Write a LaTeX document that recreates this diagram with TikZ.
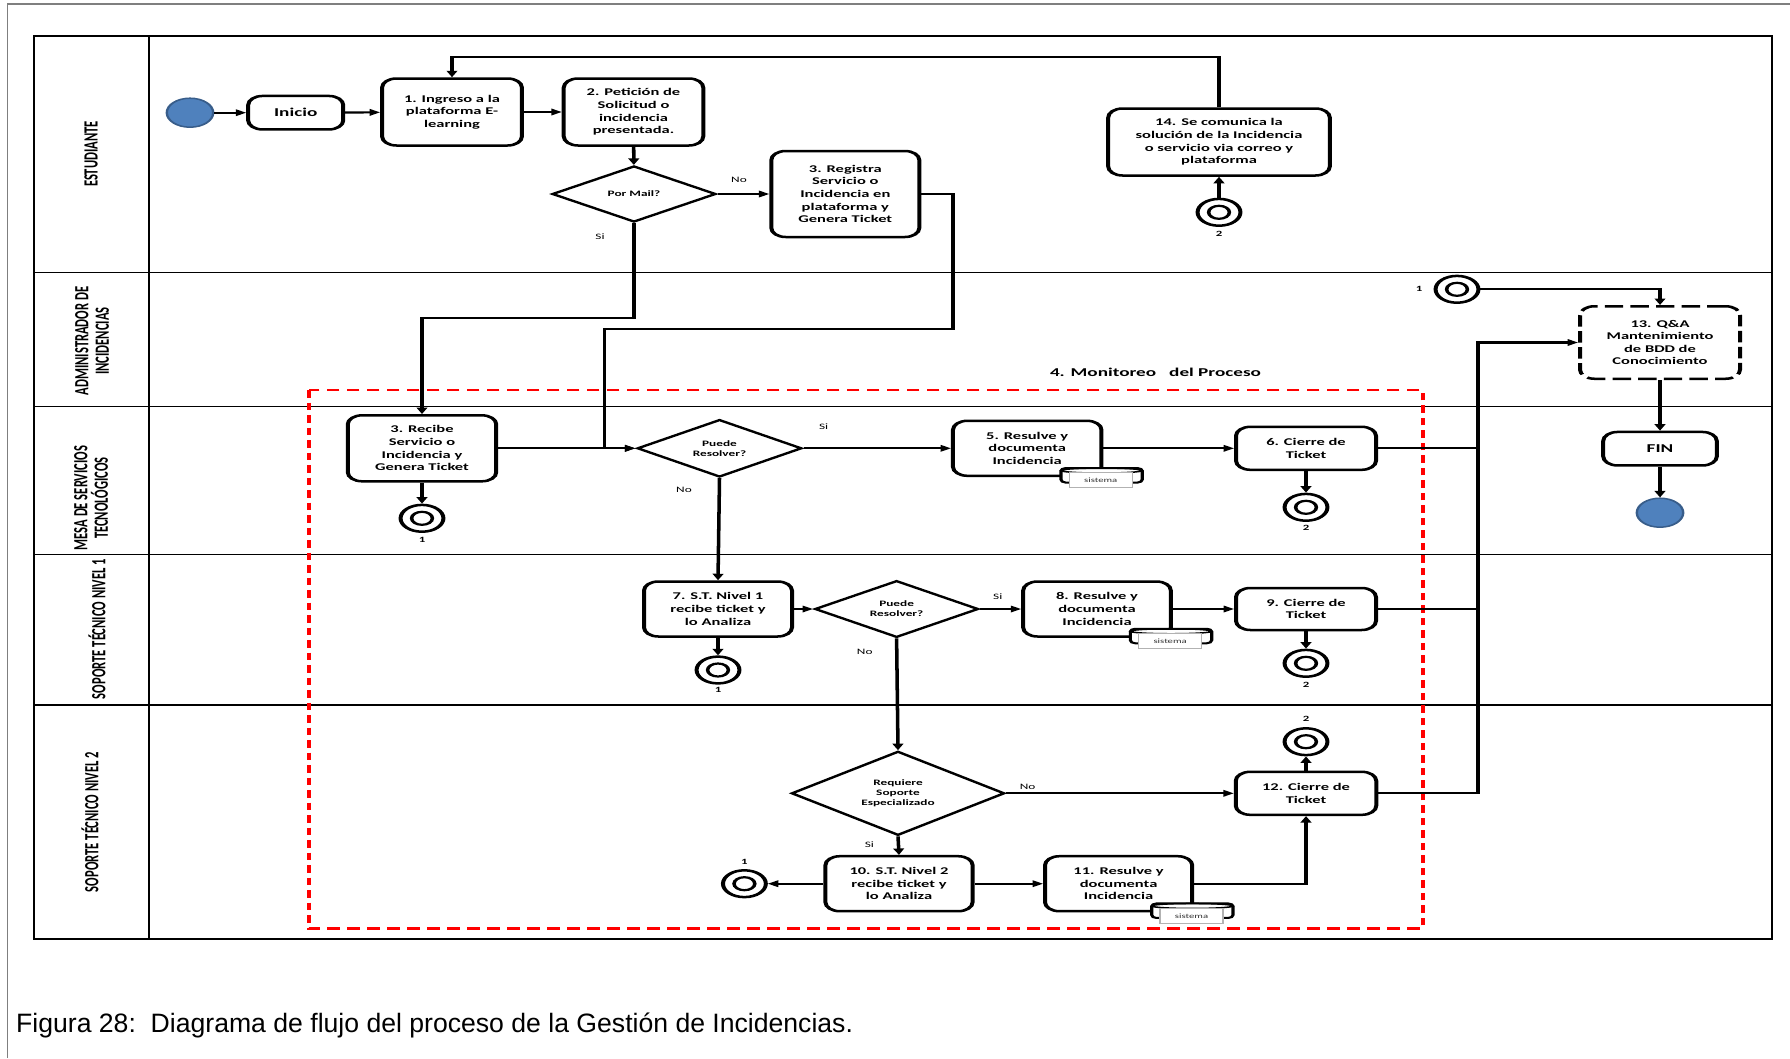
\documentclass[tikz,border=0pt]{standalone}
\usepackage{fontspec}
\setmainfont{Carlito}
\newfontfamily\capfont{Liberation Sans}
\usetikzlibrary{arrows.meta,shapes.geometric,calc}

\definecolor{startblue}{HTML}{4F81BD}
\definecolor{startedge}{HTML}{385D8A}
\definecolor{framegray}{HTML}{7F7F7F}

\tikzset{
  arr/.style={line width=2.2pt,-{Triangle[length=6.5pt,width=6.5pt]}},
  link/.style={line width=2.2pt},
  box/.style={draw,line width=2.5pt,rounded corners=9pt,align=center,inner sep=0pt,fill=white,
    font=\fontsize{10.3}{12.6}\selectfont\bfseries},
  bigbox/.style={box,font=\fontsize{12}{14}\selectfont\bfseries},
  dbox/.style={box,dash pattern=on 11.5pt off 4.5pt},
  dec/.style={draw,diamond,line width=2.2pt,inner sep=0pt,align=center,fill=white,
    font=\fontsize{8.3}{10}\selectfont\bfseries},
  conn/.style={draw,circle,line width=2.5pt,minimum size=26.8pt,inner sep=0pt,fill=white,
    path picture={\draw[line width=2.2pt] (path picture bounding box.center) circle (6.5pt);}},
  ev/.style={draw=startedge,fill=startblue,circle,line width=1.5pt,minimum size=29pt,inner sep=0pt},
  lbl/.style={inner sep=0pt,font=\fontsize{8.3}{10}\selectfont},
  num/.style={inner sep=0pt,font=\fontsize{8}{10}\selectfont\bfseries},
  lane/.style={rotate=90,align=center,inner sep=0pt,font=\fontsize{12.6}{12.8}\selectfont\bfseries},
  tline/.style={line width=1.5pt},
  monit/.style={red,line width=2.5pt,dash pattern=on 7.8pt off 4.7pt},
  sislabel/.style={draw=black!30,fill=white,line width=0.8pt,minimum width=39.5pt,minimum height=15pt,
    inner sep=0pt,font=\fontsize{6.7}{8}\selectfont,text=black!80},
}

\newcommand\sistemaicon[2]{%
  \begin{scope}[shift={(#1.south east)}]
    \draw[line width=2pt,fill=white,rounded corners=3pt] (-42.5,-9) rectangle (38.8,5.5);
    \draw[line width=1.5pt] (-1.85,-6.5) ellipse [x radius=25.4pt, y radius=2.5pt];
    \node[sislabel] (#2) at (-2.7,3.3) {sistema};
  \end{scope}}

\begin{document}
\begin{tikzpicture}[x=1pt,y=-1pt]
\useasboundingbox (0,0) rectangle (1790,1058);
\fill[white] (0,0) rectangle (1790,1058);
\draw[framegray,line width=1.3pt] (7.7,1058) -- (7.7,4) -- (1790,4);
\node[anchor=base west,inner sep=0pt,font=\capfont\fontsize{26.6}{32}\selectfont] (cap) at (16,1032)
  {Figura 28:\ \ Diagrama de flujo del proceso de la Gestión de Incidencias.};

\begin{scope}[transform canvas={xscale=1.6},x=0.625pt]
  % table
  \draw[tline] (34,36) rectangle (1772,939);
  \draw[tline] (149,36) -- (149,939);
  \foreach \yy in {272.3,406.3,554.3,705} \draw[tline] (34,\yy) -- (1772,\yy);
  \node[lane] (lane1) at (91,154) {ESTUDIANTE};
  \node[lane] (lane2) at (92,341) {ADMINISTRADOR DE\\INCIDENCIAS};
  \node[lane] (lane3) at (91,498) {MESA DE SERVICIOS\\TECNOLÓGICOS};
  \node[lane] (lane4) at (97,629) {SOPORTE TÉCNICO NIVEL 1};
  \node[lane] (lane5) at (90,822) {SOPORTE TÉCNICO NIVEL 2};

  % monitoring frame
  \draw[monit] (308.5,390) rectangle (1422.7,928.3);
  \node[inner sep=0pt,font=\fontsize{12}{14}\selectfont\bfseries] (monlbl) at (1155.5,372)
    {4. Monitoreo\ \ \ del Proceso};

  % helper coordinates
  \coordinate (k1) at (0,318.3);
  \coordinate (k2) at (953,329);
  \coordinate (k3) at (604.5,329);
  \coordinate (k4) at (0,56.7);
  \coordinate (kv) at (1478,0);

  % nodes
  \node[ev] (start) at (190,112.7) {};
  \node[bigbox,minimum width=59.4pt,minimum height=33.5pt] (inicio) at (295.7,112.7) {Inicio};
  \node[box,minimum width=87.4pt,minimum height=67pt] (n1) at (452,112) {1. Ingreso a la\\plataforma E-\\learning};
  \node[box,minimum width=87.2pt,minimum height=67pt] (n2) at (633.5,112) {2. Petición de\\Solicitud o\\incidencia\\presentada.};
  \node[dec,minimum width=102.5pt,minimum height=56pt] (dmail) at (634,194) {Por Mail?};
  \node[box,minimum width=92.5pt,minimum height=86pt] (n3r) at (845.3,194) {3. Registra\\Servicio o\\Incidencia en\\plataforma y\\Genera Ticket};
  \node[box,minimum width=138.5pt,minimum height=67pt] (n14) at (1219,142) {14. Se comunica la\\solución de la Incidencia\\o servicio via correo y\\plataforma};
  \node[conn] (c2a) at (1219,212.3) {};
  \node[conn] (c1a) at (1457,289.3) {};
  \node[dbox,minimum width=100pt,minimum height=72.5pt] (n13) at (1660,342.5) {13. Q\&A\\Mantenimiento\\de BDD de\\Conocimiento};

  \node[box,minimum width=92.8pt,minimum height=66pt] (n3) at (422,448.3) {3. Recibe\\Servicio o\\Incidencia y\\Genera Ticket};
  \node[conn] (c1m) at (422,518.3) {};
  \node[dec,minimum width=103pt,minimum height=57.4pt] (d1) at (719.5,448.3) {Puede\\Resolver?};
  \node[box,minimum width=92.8pt,minimum height=55pt] (n5) at (1027.2,448.3) {5. Resulve y\\documenta\\Incidencia};
  \node[box,minimum width=87.5pt,minimum height=43pt] (n6) at (1306,448.3) {6. Cierre de\\Ticket};
  \node[conn] (c2m) at (1306,507.3) {};
  \node[bigbox,minimum width=71pt,minimum height=33.5pt] (fin) at (1660,448.7) {FIN};
  \node[ev] (endn) at (1660,512.7) {};

  \node[box,minimum width=92.5pt,minimum height=55pt] (n7) at (718,609) {7. S.T. Nivel 1\\recibe ticket y\\lo Analiza};
  \node[conn] (c1s1) at (718,670) {};
  \node[dec,minimum width=102.4pt,minimum height=56.7pt] (d2) at (896.6,609) {Puede\\Resolver?};
  \node[box,minimum width=92.3pt,minimum height=55pt] (n8) at (1097,609) {8. Resulve y\\documenta\\Incidencia};
  \node[box,minimum width=87.5pt,minimum height=42pt] (n9) at (1306,609) {9. Cierre de\\Ticket};
  \node[conn] (c2s1) at (1306,663.3) {};

  \node[conn] (c2s2) at (1306,741.7) {};
  \node[box,minimum width=87.8pt,minimum height=43pt] (n12) at (1306,793.3) {12. Cierre de\\Ticket};
  \node[dec,minimum width=133.3pt,minimum height=84pt] (d3) at (898,793.3) {Requiere\\Soporte\\Especializado};
  \node[box,minimum width=92pt,minimum height=55pt] (n10) at (899,883.7) {10. S.T. Nivel 2\\recibe ticket y\\lo Analiza};
  \node[conn] (c1s2) at (744.4,883.7) {};
  \node[box,minimum width=92pt,minimum height=55pt] (n11) at (1118.6,883.7) {11. Resulve y\\documenta\\Incidencia};

  % labels
  \node[lbl] (lno0) at (739,180) {No};
  \node[lbl] (lsi0) at (600,237) {Si};
  \node[lbl] (lsi1) at (823.7,426.7) {Si};
  \node[lbl] (lno1) at (684,490) {No};
  \node[lbl] (lsi2) at (997.8,597) {Si};
  \node[lbl] (lno2) at (864.7,652) {No};
  \node[lbl] (lno3) at (1027.6,787) {No};
  \node[lbl] (lsi3) at (869.4,845) {Si};
  \node[num] (t2a) at (1219,234.3) {2};
  \node[num] (t1a) at (1419,289.3) {1};
  \node[num] (t1m) at (422,540) {1};
  \node[num] (t2m) at (1306,528) {2};
  \node[num] (t1s1) at (718,690) {1};
  \node[num] (t2s1) at (1306,685) {2};
  \node[num] (t2s2) at (1306,719) {2};
  \node[num] (t1s2) at (744.4,862.3) {1};

  % connectors
  \draw[arr] (start) -- (inicio);
  \draw[arr] (inicio) -- (n1);
  \draw[arr] (n1) -- (n2);
  \draw[arr] (n2) -- (dmail);
  \draw[arr] (dmail.east) -- (n3r.west);
  \draw[arr] (dmail.south) -- (dmail.south |- k1) -| (n3.north);
  \draw[arr] (n3r.east) -| (k2) -- (k3) |- (d1.west);
  \draw[arr] (n3.east) -- (d1.west);
  \draw[arr] (n3) -- (c1m);
  \draw[arr] (d1.east) -- (n5.west);
  \draw[arr] (d1.south) -- (n7.north);
  \draw[arr] (n5) -- (n6);
  \draw[arr] (n6) -- (c2m);
  \draw[link] (n6.east) -- (n6.east -| kv);
  \draw[arr] (n7.east) -- (d2.west);
  \draw[arr] (n7) -- (c1s1);
  \draw[arr] (d2.east) -- (n8.west);
  \draw[arr] (d2.south) -- (d3.north);
  \draw[arr] (n8) -- (n9);
  \draw[arr] (n9) -- (c2s1);
  \draw[link] (n9.east) -- (n9.east -| kv);
  \draw[arr] (d3.east) -- (n12.west);
  \draw[arr] (d3.south) -- (n10.north);
  \draw[arr] (n10.west) -- (c1s2.east);
  \draw[arr] (n10) -- (n11);
  \draw[arr] (n11.east) -| (n12.south);
  \draw[arr] (n12) -- (c2s2);
  \draw[arr] (n12.east) -- (n12.east -| kv) |- (n13.west);
  \draw[arr] (c1a.east) -| (n13.north);
  \draw[arr] (n13) -- (fin);
  \draw[arr] (fin) -- (endn);
  \draw[arr] (c2a) -- (n14);
  \draw[arr] (n14.north) -- (n14.north |- k4) -| (n1.north);

  % data stores
  \sistemaicon{n5}{s5}
  \sistemaicon{n8}{s8}
  \sistemaicon{n11}{s11}
\end{scope}
\end{tikzpicture}
\end{document}
